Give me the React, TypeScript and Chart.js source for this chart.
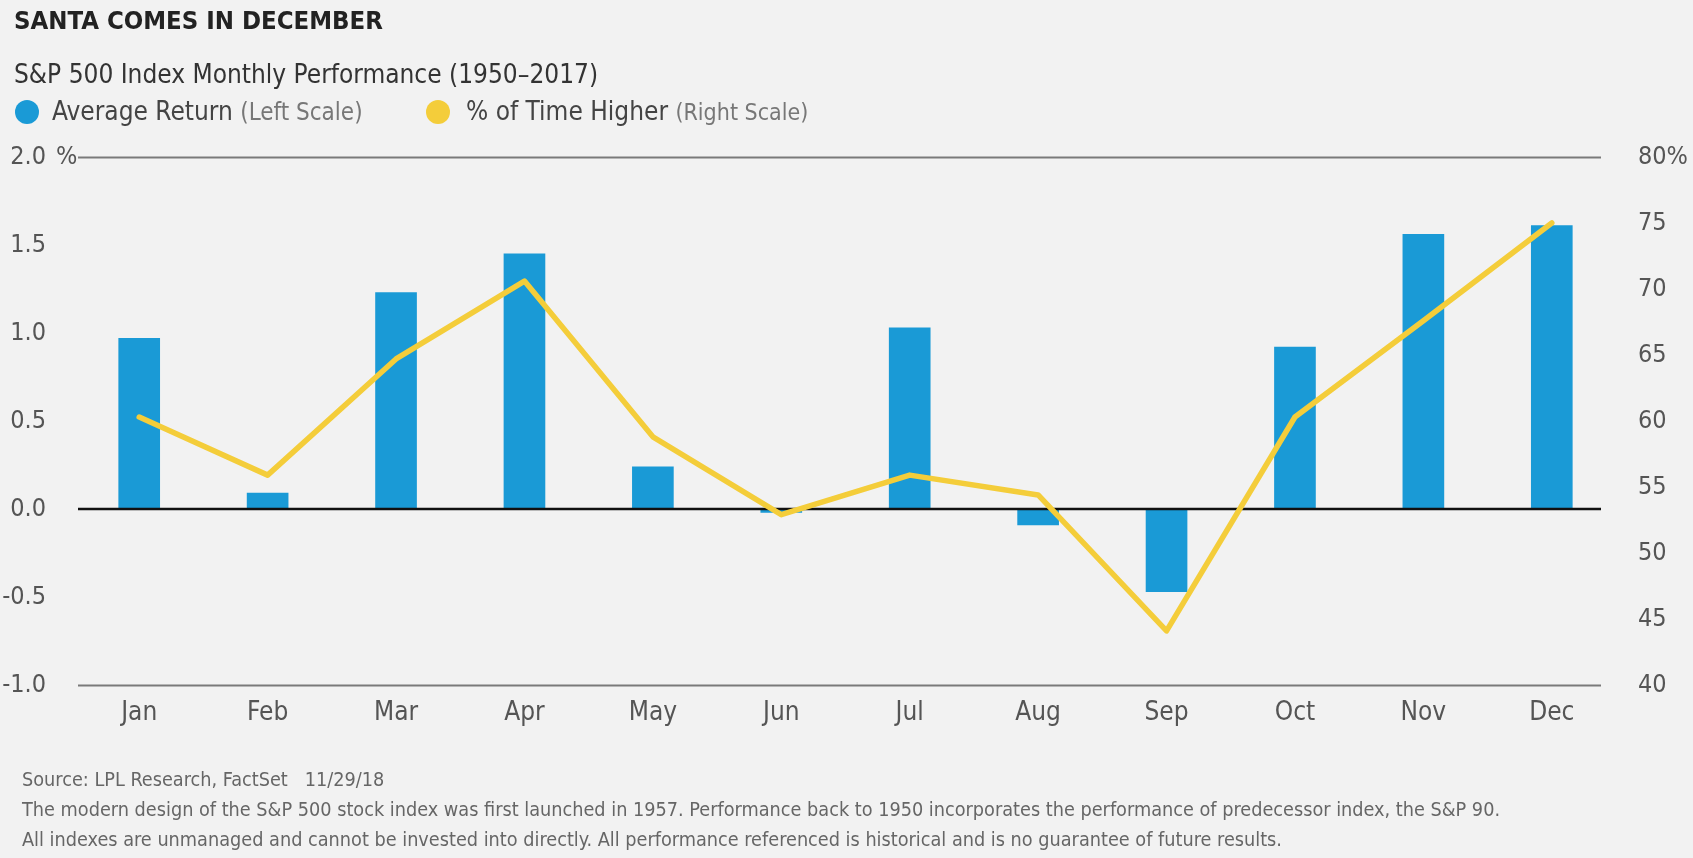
import React, { useEffect, useRef } from "react";
import { Chart, registerables } from "chart.js";

Chart.register(...registerables);

const MONTHS = ["Jan", "Feb", "Mar", "Apr", "May", "Jun", "Jul", "Aug", "Sep", "Oct", "Nov", "Dec"];
const AVG_RETURN = [0.97, 0.09, 1.23, 1.45, 0.24, -0.02, 1.03, -0.09, -0.47, 0.92, 1.56, 1.61];
const PCT_HIGHER = [60.3, 55.9, 64.7, 70.6, 58.8, 52.9, 55.9, 54.4, 44.1, 60.3, 67.6, 75.0];
const LEFT_MIN = -1;
const LEFT_MAX = 2;
const LEFT_STEP = 0.5;
const RIGHT_MIN = 40;
const RIGHT_MAX = 80;
const RIGHT_STEP = 5;
const FOOTNOTES = [
  "Source: LPL Research, FactSet   11/29/18",
  "The modern design of the S&P 500 stock index was first launched in 1957. Performance back to 1950 incorporates the performance of predecessor index, the S&P 90.",
  "All indexes are unmanaged and cannot be invested into directly. All performance referenced is historical and is no guarantee of future results.",
];

const BLUE = "#1A9AD6";
const YELLOW = "#F4CD3A";
const BG = "#F2F2F2";
const FONT = "'Liberation Sans Narrow', 'DejaVu Sans Condensed', 'Roboto', sans-serif";

const refLinesPlugin = {
  id: "refLines",
  afterDatasetDraw(chart: any, args: any) {
    if (args.index !== 0) return;
    const ctx = chart.ctx;
    const y = chart.scales.y;
    const { left, right } = chart.chartArea;
    const x0 = left + 3;
    const x1 = right - 15;
    ctx.save();
    ctx.lineCap = "butt";
    ctx.strokeStyle = "#7A7A7A";
    ctx.lineWidth = 2;
    [LEFT_MAX, LEFT_MIN].forEach((v) => {
      const py = Math.round(y.getPixelForValue(v)) + 0.5;
      ctx.beginPath();
      ctx.moveTo(x0, py);
      ctx.lineTo(x1, py);
      ctx.stroke();
    });
    ctx.strokeStyle = "#111";
    ctx.lineWidth = 2.5;
    const pz = y.getPixelForValue(0);
    ctx.beginPath();
    ctx.moveTo(x0, pz);
    ctx.lineTo(x1, pz);
    ctx.stroke();
    ctx.restore();
  },
  afterDraw(chart: any) {
    const ctx = chart.ctx;
    const y = chart.scales.y;
    ctx.save();
    ctx.fillStyle = "#555";
    ctx.font = `25px ${FONT}`;
    ctx.textBaseline = "middle";
    ctx.textAlign = "left";
    ctx.fillText("%", y.right - 19, y.getPixelForValue(LEFT_MAX));
    ctx.restore();
  },
};

function ChartBox() {
  const ref = useRef<HTMLCanvasElement | null>(null);
  useEffect(() => {
    if (!ref.current) return;
    const chart = new Chart(ref.current, {
      data: {
        labels: MONTHS,
        datasets: [
          {
            type: "bar",
            label: "Average Return",
            data: AVG_RETURN,
            backgroundColor: BLUE,
            borderWidth: 0,
            barThickness: 41,
            yAxisID: "y",
            order: 2,
          },
          {
            type: "line",
            label: "% of Time Higher",
            data: PCT_HIGHER,
            borderColor: YELLOW,
            borderWidth: 5.5,
            pointRadius: 0,
            tension: 0,
            borderCapStyle: "round",
            borderJoinStyle: "round",
            yAxisID: "y1",
            order: 1,
          },
        ],
      } as any,
      options: {
        animation: false,
        responsive: false,
        devicePixelRatio: 1,
        layout: { padding: { top: 157, bottom: 0, left: 0, right: 0 } },
        plugins: { legend: { display: false }, tooltip: { enabled: false }, title: { display: false } },
        scales: {
          x: {
            offset: true,
            grid: { display: false },
            border: { display: false },
            ticks: { color: "#555", font: { family: FONT, size: 26 }, padding: 5 },
            afterFit: (s: any) => {
              s.height = 858 - 685;
            },
          },
          y: {
            position: "left",
            min: LEFT_MIN,
            max: LEFT_MAX,
            grid: { display: false },
            border: { display: false },
            ticks: {
              stepSize: LEFT_STEP,
              color: "#555",
              font: { family: FONT, size: 25 },
              padding: 21,
              callback: (v: any) => Number(v).toFixed(1),
            },
            afterFit: (s: any) => {
              s.width = 75;
            },
          },
          y1: {
            position: "right",
            min: RIGHT_MIN,
            max: RIGHT_MAX,
            grid: { display: false },
            border: { display: false },
            ticks: {
              stepSize: RIGHT_STEP,
              color: "#555",
              font: { family: FONT, size: 25 },
              padding: 14,
              callback: (v: any) => (Number(v) === RIGHT_MAX ? `${v}%` : `${v}`),
            },
            afterFit: (s: any) => {
              s.width = 1693 - 1616;
            },
          },
        },
      } as any,
      plugins: [refLinesPlugin],
    });
    return () => chart.destroy();
  }, []);
  return <canvas ref={ref} width={1693} height={858} style={{ position: "absolute", left: 0, top: 0 }} />;
}

export default function App() {
  useEffect(() => {
    document.body.style.margin = "0";
    document.body.style.background = BG;
  }, []);
  const legendDot = (color: string) => (
    <span
      style={{
        display: "inline-block",
        width: 24,
        height: 24,
        borderRadius: 12,
        background: color,
        position: "absolute",
        left: 0,
        top: 0,
      }}
    />
  );
  return (
    <div style={{ position: "absolute", left: 0, top: 0, width: 1693, height: 858, background: BG, overflow: "hidden", fontFamily: FONT }}>
      <ChartBox />
      <div style={{ position: "absolute", left: 14, top: 5, fontSize: 25.5, fontWeight: "bold", color: "#222", whiteSpace: "nowrap" }}>
        SANTA COMES IN DECEMBER
      </div>
      <div style={{ position: "absolute", left: 14, top: 59, fontSize: 26, color: "#333", whiteSpace: "nowrap" }}>
        S&amp;P 500 Index Monthly Performance (1950–2017)
      </div>
      <div style={{ position: "absolute", left: 15, top: 100, height: 26, width: 400 }}>
        {legendDot(BLUE)}
        <span style={{ position: "absolute", left: 37, top: -4, fontSize: 26, color: "#444", whiteSpace: "nowrap" }}>
          Average Return <span style={{ color: "#777", fontSize: 24 }}>(Left Scale)</span>
        </span>
      </div>
      <div style={{ position: "absolute", left: 426, top: 100, height: 26, width: 420 }}>
        {legendDot(YELLOW)}
        <span style={{ position: "absolute", left: 40, top: -4, fontSize: 26, color: "#444", whiteSpace: "nowrap" }}>
          % of Time Higher <span style={{ color: "#777", fontSize: 23 }}>(Right Scale)</span>
        </span>
      </div>
      {FOOTNOTES.map((t, i) => (
        <div
          key={i}
          style={{ position: "absolute", left: 22, top: 768 + i * 30, fontSize: 19.7, color: "#666", whiteSpace: "pre" }}
        >
          {t}
        </div>
      ))}
    </div>
  );
}
